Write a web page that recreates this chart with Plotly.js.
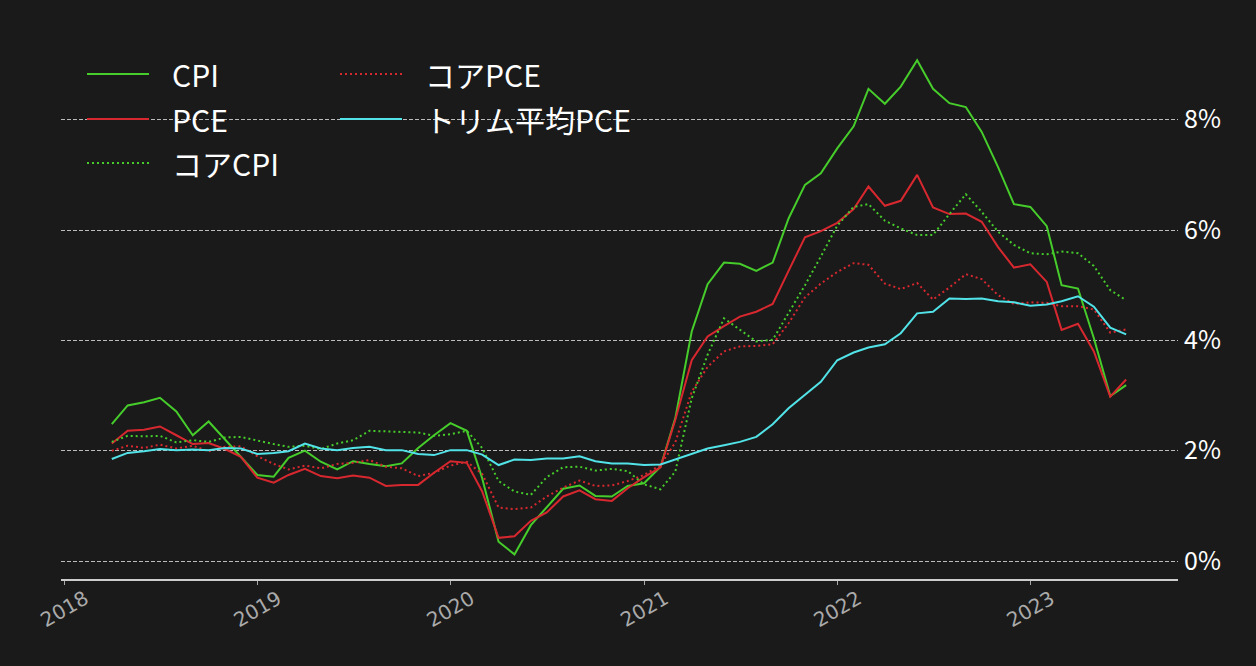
<!DOCTYPE html>
<html>
<head>
<meta charset="utf-8">
<script src="https://cdn.plot.ly/plotly-3.0.1.min.js"></script>
<style>
  html, body { margin: 0; padding: 0; background: #1a1a1a; }
  #chart { width: 1256px; height: 666px; }
</style>
</head>
<body>
<div id="chart"></div>
<script>
// monthly, year-over-year %
const months = [
  '2018-04','2018-05','2018-06','2018-07','2018-08','2018-09','2018-10','2018-11','2018-12',
  '2019-01','2019-02','2019-03','2019-04','2019-05','2019-06','2019-07','2019-08','2019-09','2019-10','2019-11','2019-12',
  '2020-01','2020-02','2020-03','2020-04','2020-05','2020-06','2020-07','2020-08','2020-09','2020-10','2020-11','2020-12',
  '2021-01','2021-02','2021-03','2021-04','2021-05','2021-06','2021-07','2021-08','2021-09','2021-10','2021-11','2021-12',
  '2022-01','2022-02','2022-03','2022-04','2022-05','2022-06','2022-07','2022-08','2022-09','2022-10','2022-11','2022-12',
  '2023-01','2023-02','2023-03','2023-04','2023-05','2023-06','2023-07'
]

const cpi = [
  2.48, 2.82, 2.88, 2.96, 2.71, 2.28, 2.53, 2.20, 1.90,
  1.56, 1.53, 1.87, 2.00, 1.80, 1.66, 1.81, 1.76, 1.72, 1.77, 2.05, 2.28,
  2.50, 2.36, 1.50, 0.35, 0.12, 0.65, 0.97, 1.31, 1.37, 1.18, 1.17, 1.36,
  1.41, 1.71, 2.59, 4.16, 5.02, 5.41, 5.39, 5.26, 5.41, 6.21, 6.82, 7.03,
  7.48, 7.88, 8.56, 8.29, 8.60, 9.08, 8.56, 8.30, 8.23, 7.78, 7.14, 6.47,
  6.42, 6.07, 5.00, 4.94, 4.04, 2.99, 3.19
]
const pce = [
  2.13, 2.36, 2.38, 2.44, 2.28, 2.12, 2.14, 2.03, 1.89,
  1.51, 1.42, 1.56, 1.67, 1.54, 1.50, 1.55, 1.51, 1.36, 1.38, 1.38, 1.60,
  1.81, 1.78, 1.26, 0.42, 0.45, 0.73, 0.88, 1.17, 1.28, 1.12, 1.09, 1.32,
  1.52, 1.70, 2.56, 3.64, 4.07, 4.26, 4.43, 4.52, 4.66, 5.26, 5.87, 5.98,
  6.13, 6.38, 6.79, 6.44, 6.53, 7.00, 6.41, 6.29, 6.30, 6.15, 5.69, 5.32,
  5.38, 5.06, 4.19, 4.30, 3.80, 2.98, 3.29
]
const coreCpi = [
  2.16, 2.27, 2.26, 2.27, 2.15, 2.19, 2.16, 2.24, 2.25,
  2.18, 2.12, 2.07, 2.09, 2.03, 2.13, 2.19, 2.36, 2.35, 2.34, 2.33, 2.27,
  2.30, 2.36, 2.05, 1.45, 1.26, 1.20, 1.52, 1.70, 1.71, 1.64, 1.67, 1.63,
  1.39, 1.30, 1.62, 2.95, 3.74, 4.40, 4.19, 3.98, 4.01, 4.49, 5.00, 5.52,
  6.08, 6.42, 6.47, 6.17, 6.03, 5.91, 5.91, 6.29, 6.65, 6.33, 5.97, 5.73,
  5.58, 5.56, 5.61, 5.58, 5.35, 4.91, 4.73
]
const corePce = [
  2.00, 2.09, 2.05, 2.11, 2.04, 2.09, 1.99, 2.07, 2.08,
  1.90, 1.76, 1.66, 1.73, 1.68, 1.76, 1.78, 1.83, 1.71, 1.68, 1.54, 1.60,
  1.73, 1.80, 1.58, 0.97, 0.94, 0.97, 1.17, 1.33, 1.46, 1.36, 1.37, 1.45,
  1.56, 1.74, 2.15, 3.07, 3.52, 3.80, 3.89, 3.90, 3.93, 4.31, 4.78, 5.03,
  5.24, 5.40, 5.37, 5.03, 4.93, 5.04, 4.74, 4.96, 5.20, 5.11, 4.82, 4.66,
  4.69, 4.68, 4.62, 4.62, 4.56, 4.14, 4.20
]
const trimmedPce = [
  1.85, 1.96, 1.99, 2.03, 2.01, 2.02, 2.01, 2.05, 2.04,
  1.94, 1.96, 1.99, 2.13, 2.04, 2.01, 2.05, 2.07, 2.01, 2.01, 1.94, 1.92,
  2.01, 2.01, 1.93, 1.74, 1.84, 1.83, 1.86, 1.86, 1.90, 1.81, 1.77, 1.77,
  1.74, 1.75, 1.84, 1.95, 2.04, 2.10, 2.16, 2.25, 2.48, 2.77, 3.02, 3.25,
  3.64, 3.78, 3.87, 3.93, 4.13, 4.49, 4.52, 4.76, 4.75, 4.76, 4.71, 4.69,
  4.63, 4.65, 4.71, 4.80, 4.61, 4.23, 4.11
]

const yearTicks = ['2018-01-01', '2019-01-01', '2020-01-01', '2021-01-01', '2022-01-01', '2023-01-01']
const yearLabels = ['2018', '2019', '2020', '2021', '2022', '2023']
const yTicks = [0, 2, 4, 6, 8]

const GREEN = '#46cc2b'
const RED = '#d8282f'
const CYAN = '#52e3e8'
const DOT = '2px,3px'

// name, values, colour, dash, legend column, legend row
const series = [
  ['CPI', cpi, GREEN, 'solid', 0, 0],
  ['PCE', pce, RED, 'solid', 0, 1],
  ['コアCPI', coreCpi, GREEN, DOT, 0, 2],
  ['コアPCE', corePce, RED, DOT, 1, 0],
  ['トリム平均PCE', trimmedPce, CYAN, 'solid', 1, 1]
]

const traces = series.map(s => ({
  type: 'scatter',
  mode: 'lines',
  name: s[0],
  x: months,
  y: s[1],
  line: { color: s[2], width: 2, dash: s[3] },
  hoverinfo: 'x+y+name'
}))

// plot area in pixels, used to place the hand drawn legend
const L = 61, R = 1178, T = 37, B = 579
const px = x => (x - L) / (R - L)
const py = y => (B - y) / (B - T)

const colLine = [87, 340]
const colText = [170, 423]
const rowY = [74, 119, 163]

const shapes = []
const annotations = []
series.forEach(s => {
  const c = s[4], r = s[5]
  shapes.push({
    type: 'line', xref: 'paper', yref: 'paper',
    x0: px(colLine[c]), x1: px(colLine[c] + 62),
    y0: py(rowY[r]), y1: py(rowY[r]),
    line: { color: s[2], width: 2, dash: s[3] }
  })
  annotations.push({
    xref: 'paper', yref: 'paper',
    x: px(colText[c]), y: py(rowY[r]),
    xanchor: 'left', yanchor: 'middle',
    text: s[0], showarrow: false,
    font: { size: 30, color: '#ffffff' }
  })
})

// year labels, rotated about their centre under each tick
yearTicks.forEach((d, i) => {
  annotations.push({
    xref: 'x', yref: 'paper',
    x: d, y: py(609),
    xanchor: 'center', yanchor: 'middle',
    text: yearLabels[i], showarrow: false,
    textangle: -30,
    font: { family: '"DejaVu Sans", sans-serif', size: 20, color: '#aaaaaa' }
  })
})

const layout = {
  width: 1256,
  height: 666,
  paper_bgcolor: '#1a1a1a',
  plot_bgcolor: '#1a1a1a',
  font: { family: '"Noto Sans CJK JP", "Noto Sans", sans-serif', color: '#ffffff' },
  margin: { l: L, r: 1256 - R, t: T, b: 666 - B, pad: 0 },
  showlegend: false,
  xaxis: {
    type: 'date',
    range: ['2017-12-26', '2023-10-07'],
    tickvals: yearTicks,
    showticklabels: false,
    ticks: 'outside',
    ticklen: 4,
    tickwidth: 1,
    tickcolor: '#aaaaaa',
    showline: true,
    linecolor: '#cccccc',
    linewidth: 2,
    showgrid: false,
    zeroline: false
  },
  yaxis: {
    side: 'right',
    range: [-0.326, 9.5],
    tickvals: yTicks,
    ticktext: yTicks.map(v => v + '%'),
    tickfont: { size: 25, color: '#ffffff' },
    ticklabelstandoff: 5,
    showgrid: true,
    gridcolor: '#bbbbbb',
    gridwidth: 1,
    griddash: '4px,2px',
    zeroline: false,
    showline: false,
    ticks: ''
  },
  shapes: shapes,
  annotations: annotations
}

Plotly.newPlot('chart', traces, layout, { displayModeBar: false, staticPlot: true })
</script>
</body>
</html>
